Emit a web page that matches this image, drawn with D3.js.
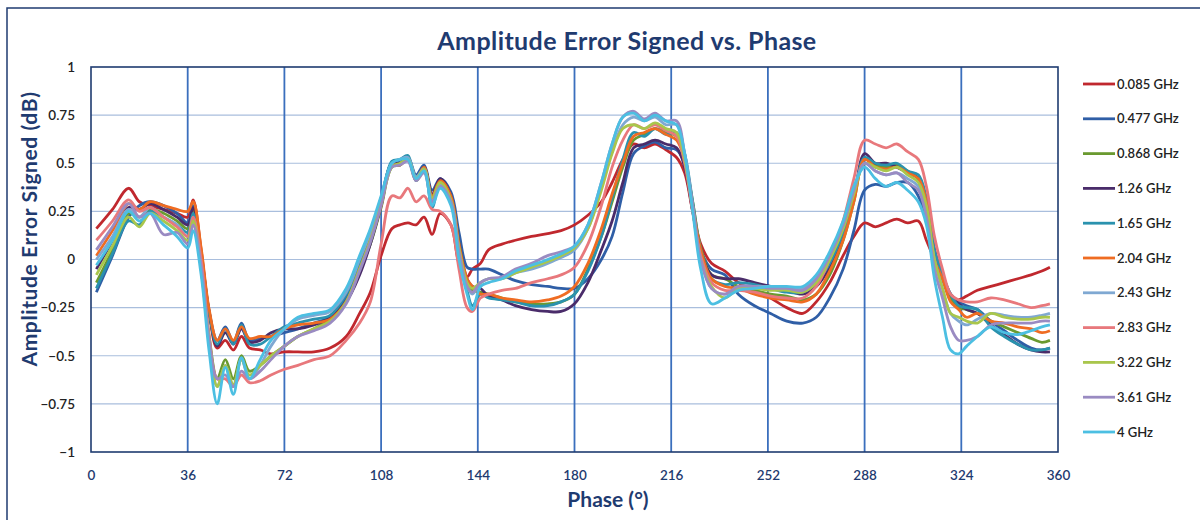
<!DOCTYPE html>
<html><head><meta charset="utf-8">
<script src="https://cdn.jsdelivr.net/npm/d3@7"></script>
<style>
html,body{margin:0;padding:0;background:#fff;}
svg{display:block;font-family:Lato,"Open Sans",sans-serif;}
</style></head>
<body><svg id="chart" width="1200" height="520"></svg>
<script>
const phase = [2,8,14,18,22,27,32,36,38, 41,44,47,50,53,56,59,63,67,72,77,83,89,95,100, 104,108,112,115,118,121,124,127,130,134,137,140,142, 145,148,153,158,164,170,175,180,185,190,194,198, 202,206,210,214,218, 221,224,227,231,236, 241,247,253,259,265,270,275,280,284, 288,292,296,300,304,308,311, 314,317,320,323,326,330, 335,340,345,350,354,357];

const s0085 = [0.16,0.26,0.37,0.30,0.28,0.26,0.24,0.22,0.31, 0.05,-0.28,-0.46,-0.42,-0.47,-0.40,-0.46,-0.47,-0.49,-0.48,-0.48,-0.48,-0.46,-0.40,-0.28, -0.17,0.02,0.16,0.18,0.19,0.18,0.22,0.13,0.24,0.18,-0.02,-0.09,-0.05, -0.02,0.05,0.08,0.10,0.12,0.135,0.15,0.18,0.23,0.30,0.40,0.52, 0.60,0.58,0.60,0.57,0.53, 0.45,0.25,0.08,-0.02,-0.06, -0.12,-0.16,-0.20,-0.25,-0.28,-0.22,-0.12,0.02,0.12, 0.19,0.17,0.19,0.21,0.19,0.20,0.10, 0.00,-0.10,-0.20,-0.21,-0.19,-0.16, -0.14,-0.12,-0.10,-0.08,-0.06,-0.04];
const s0477 = [-0.17,0.02,0.22,0.28,0.30,0.28,0.24,0.19,0.28, 0.02,-0.27,-0.42,-0.35,-0.43,-0.33,-0.42,-0.41,-0.40,-0.38,-0.36,-0.33,-0.30,-0.20,-0.05, 0.12,0.32,0.50,0.51,0.53,0.44,0.49,0.36,0.42,0.35,0.14,-0.04,-0.05, -0.05,-0.05,-0.08,-0.11,-0.13,-0.14,-0.15,-0.15,-0.10,0.00,0.12,0.35, 0.55,0.59,0.61,0.58,0.57, 0.50,0.28,0.05,-0.05,-0.08, -0.18,-0.24,-0.28,-0.32,-0.33,-0.30,-0.20,-0.05,0.15, 0.36,0.39,0.38,0.40,0.40,0.33,0.20, 0.00,-0.10,-0.18,-0.22,-0.24,-0.26, -0.32,-0.37,-0.42,-0.46,-0.47,-0.46];
const s0868 = [-0.12,0.05,0.24,0.22,0.26,0.24,0.20,0.16,0.26, -0.02,-0.40,-0.62,-0.52,-0.62,-0.50,-0.58,-0.55,-0.50,-0.45,-0.40,-0.36,-0.31,-0.22,-0.06, 0.08,0.27,0.48,0.49,0.52,0.41,0.46,0.33,0.40,0.32,0.08,-0.12,-0.16, -0.17,-0.18,-0.20,-0.22,-0.23,-0.23,-0.22,-0.18,-0.05,0.12,0.30,0.48, 0.62,0.65,0.68,0.66,0.64, 0.52,0.30,0.06,-0.08,-0.10, -0.14,-0.16,-0.18,-0.19,-0.21,-0.18,-0.08,0.10,0.30, 0.52,0.49,0.48,0.49,0.46,0.42,0.30, 0.05,-0.10,-0.20,-0.25,-0.26,-0.28, -0.32,-0.35,-0.38,-0.41,-0.43,-0.42];
const s126 = [-0.05,0.10,0.27,0.26,0.29,0.26,0.22,0.18,0.27, 0.03,-0.27,-0.45,-0.38,-0.44,-0.36,-0.43,-0.42,-0.38,-0.36,-0.36,-0.34,-0.30,-0.22,-0.08, 0.08,0.28,0.50,0.50,0.52,0.42,0.48,0.34,0.42,0.33,0.08,-0.10,-0.14, -0.15,-0.19,-0.21,-0.24,-0.26,-0.27,-0.27,-0.23,-0.12,0.05,0.20,0.40, 0.58,0.60,0.62,0.60,0.58, 0.48,0.25,0.04,-0.08,-0.10, -0.10,-0.12,-0.14,-0.16,-0.18,-0.14,-0.04,0.12,0.32, 0.55,0.50,0.50,0.48,0.45,0.42,0.30, 0.05,-0.08,-0.18,-0.23,-0.26,-0.28, -0.34,-0.39,-0.44,-0.47,-0.48,-0.48];
const s165 = [-0.15,0.03,0.20,0.18,0.25,0.22,0.18,0.14,0.24, 0.00,-0.28,-0.44,-0.36,-0.44,-0.34,-0.44,-0.44,-0.40,-0.35,-0.33,-0.31,-0.29,-0.18,-0.02, 0.12,0.30,0.51,0.52,0.54,0.41,0.47,0.27,0.40,0.30,0.04,-0.16,-0.24, -0.18,-0.20,-0.21,-0.22,-0.24,-0.24,-0.22,-0.18,-0.06,0.12,0.32,0.52, 0.66,0.64,0.68,0.65,0.66, 0.55,0.30,0.05,-0.10,-0.13, -0.12,-0.13,-0.15,-0.17,-0.17,-0.12,-0.02,0.14,0.33, 0.53,0.50,0.49,0.50,0.46,0.44,0.32, 0.05,-0.08,-0.18,-0.24,-0.25,-0.26, -0.35,-0.40,-0.44,-0.47,-0.47,-0.46];
const s204 = [0.02,0.15,0.29,0.26,0.30,0.28,0.26,0.25,0.30, 0.06,-0.26,-0.42,-0.36,-0.42,-0.35,-0.41,-0.40,-0.40,-0.36,-0.34,-0.33,-0.31,-0.22,-0.05, 0.10,0.28,0.49,0.49,0.52,0.42,0.48,0.33,0.41,0.33,0.08,-0.10,-0.14, -0.18,-0.18,-0.20,-0.21,-0.22,-0.21,-0.19,-0.14,-0.02,0.16,0.34,0.50, 0.64,0.66,0.68,0.65,0.62, 0.52,0.28,0.05,-0.10,-0.14, -0.15,-0.18,-0.20,-0.21,-0.22,-0.18,-0.06,0.10,0.30, 0.52,0.48,0.47,0.48,0.45,0.42,0.30, 0.00,-0.10,-0.22,-0.26,-0.30,-0.28, -0.32,-0.33,-0.35,-0.36,-0.38,-0.37];
const s243 = [0.00,0.12,0.26,0.22,0.27,0.22,0.18,0.12,0.22, -0.05,-0.42,-0.66,-0.55,-0.66,-0.52,-0.62,-0.55,-0.45,-0.36,-0.31,-0.29,-0.27,-0.17,0.00, 0.14,0.32,0.50,0.52,0.53,0.43,0.47,0.31,0.39,0.30,0.05,-0.14,-0.18, -0.12,-0.10,-0.10,-0.07,-0.05,-0.02,0.01,0.05,0.16,0.38,0.56,0.70, 0.74,0.72,0.74,0.70,0.70, 0.55,0.28,0.00,-0.15,-0.18, -0.14,-0.14,-0.14,-0.15,-0.15,-0.10,0.02,0.18,0.36, 0.50,0.46,0.44,0.45,0.42,0.38,0.25, 0.00,-0.15,-0.28,-0.32,-0.34,-0.31, -0.28,-0.29,-0.30,-0.30,-0.29,-0.28];
const s283 = [0.10,0.20,0.31,0.25,0.27,0.22,0.17,0.12,0.22, 0.00,-0.40,-0.62,-0.62,-0.66,-0.60,-0.64,-0.63,-0.60,-0.57,-0.55,-0.52,-0.50,-0.42,-0.33, -0.22,0.08,0.33,0.32,0.37,0.30,0.33,0.26,0.25,0.18,-0.05,-0.25,-0.27, -0.20,-0.18,-0.16,-0.15,-0.12,-0.10,-0.08,-0.04,0.08,0.28,0.48,0.62, 0.70,0.68,0.70,0.67,0.64, 0.50,0.25,0.02,-0.12,-0.16, -0.16,-0.17,-0.19,-0.20,-0.20,-0.14,0.00,0.20,0.42, 0.62,0.60,0.58,0.60,0.56,0.52,0.38, 0.12,-0.05,-0.18,-0.21,-0.22,-0.22, -0.20,-0.21,-0.23,-0.25,-0.24,-0.23];
const s322 = [-0.08,0.07,0.22,0.17,0.24,0.20,0.15,0.10,0.20, -0.05,-0.42,-0.66,-0.55,-0.65,-0.52,-0.60,-0.55,-0.50,-0.45,-0.40,-0.36,-0.32,-0.22,-0.05, 0.10,0.29,0.48,0.50,0.52,0.42,0.47,0.32,0.40,0.31,0.06,-0.12,-0.15, -0.12,-0.10,-0.10,-0.07,-0.04,-0.01,0.02,0.06,0.16,0.36,0.55,0.68, 0.70,0.68,0.71,0.68,0.66, 0.52,0.26,0.00,-0.14,-0.20, -0.15,-0.15,-0.16,-0.16,-0.17,-0.12,0.00,0.16,0.34, 0.50,0.48,0.46,0.48,0.44,0.40,0.28, 0.00,-0.15,-0.28,-0.30,-0.32,-0.33, -0.28,-0.30,-0.31,-0.31,-0.30,-0.30];
const s361 = [0.05,0.17,0.29,0.22,0.24,0.13,0.14,0.08,0.18, -0.03,-0.42,-0.62,-0.60,-0.66,-0.58,-0.62,-0.58,-0.52,-0.45,-0.40,-0.37,-0.33,-0.23,-0.06, 0.09,0.28,0.48,0.49,0.51,0.41,0.45,0.30,0.38,0.30,0.04,-0.14,-0.17, -0.12,-0.10,-0.09,-0.05,-0.02,0.02,0.04,0.07,0.18,0.40,0.60,0.74, 0.77,0.73,0.76,0.72,0.72, 0.55,0.28,0.00,-0.15,-0.18, -0.14,-0.14,-0.15,-0.15,-0.16,-0.10,0.02,0.18,0.36, 0.50,0.46,0.44,0.45,0.40,0.36,0.22, -0.05,-0.20,-0.35,-0.42,-0.42,-0.40, -0.34,-0.33,-0.33,-0.33,-0.32,-0.32];
const s4 = [-0.03,0.10,0.25,0.20,0.24,0.18,0.12,0.06,0.15, -0.08,-0.48,-0.75,-0.56,-0.70,-0.51,-0.62,-0.52,-0.42,-0.36,-0.30,-0.28,-0.26,-0.15,0.02, 0.16,0.33,0.50,0.52,0.52,0.42,0.46,0.28,0.37,0.28,0.00,-0.18,-0.26, -0.14,-0.12,-0.10,-0.06,-0.03,0.00,0.03,0.07,0.18,0.40,0.60,0.74, 0.76,0.72,0.75,0.72,0.70, 0.55,0.25,-0.05,-0.23,-0.20, -0.16,-0.15,-0.14,-0.14,-0.14,-0.08,0.04,0.20,0.38, 0.48,0.42,0.38,0.40,0.36,0.30,0.18, -0.10,-0.30,-0.47,-0.49,-0.45,-0.40, -0.35,-0.38,-0.39,-0.37,-0.35,-0.34];

const seriesNames = ["0.085 GHz","0.477 GHz","0.868 GHz","1.26 GHz","1.65 GHz","2.04 GHz","2.43 GHz","2.83 GHz","3.22 GHz","3.61 GHz","4 GHz"];
const seriesValues = [s0085,s0477,s0868,s126,s165,s204,s243,s283,s322,s361,s4];
const seriesColors = ["#c0282e","#2f5ea6","#6a9a30","#4a2c6a","#2a92ae","#ef6c22","#7fa8d2","#e8787c","#a9c64c","#9a8bc2","#4cbfe2"];
const xTicks = [0,36,72,108,144,180,216,252,288,324,360];
const yTicks = [-1,-0.75,-0.5,-0.25,0,0.25,0.5,0.75,1];

const svg = d3.select("#chart");
const L=91, R=1058, T=67, B=452;
const x = d3.scaleLinear().domain([0,360]).range([L,R]);
const y = d3.scaleLinear().domain([-1,1]).range([B,T]);

// outer frame
svg.append("rect").attr("x",7).attr("y",8).attr("width",1200).attr("height",520)
  .attr("fill","none").attr("stroke","#1f3b70").attr("stroke-width",1.5);

// title
svg.append("text").attr("x",627).attr("y",50).attr("text-anchor","middle")
  .attr("font-size",25).attr("font-weight","bold").attr("fill","#1f3b70")
  .attr("letter-spacing","0.4").text("Amplitude Error Signed vs. Phase");

// horizontal gridlines
svg.append("g").selectAll("line").data(yTicks.filter(d=>d>-1&&d<1)).join("line")
  .attr("x1",L).attr("x2",R).attr("y1",d=>y(d)).attr("y2",d=>y(d))
  .attr("stroke","#a9bedd").attr("stroke-width",1.2);
// vertical gridlines
svg.append("g").selectAll("line").data(xTicks.filter(d=>d>0&&d<360)).join("line")
  .attr("y1",T).attr("y2",B).attr("x1",d=>x(d)).attr("x2",d=>x(d))
  .attr("stroke","#3b6fbd").attr("stroke-width",1.8);

// plot border
svg.append("rect").attr("x",L).attr("y",T).attr("width",R-L).attr("height",B-T)
  .attr("fill","none").attr("stroke","#1f3b70").attr("stroke-width",1.6);

// axes labels
const yAxis = d3.axisLeft(y).tickValues(yTicks).tickSize(0).tickPadding(16)
  .tickFormat(d=>d3.format("")(d));
const gy = svg.append("g").attr("transform",`translate(${L},0)`).call(yAxis);
gy.select(".domain").remove();
gy.selectAll("text").attr("font-size",13.5).attr("fill","#222").attr("font-family","Lato,sans-serif").attr("font-weight","600");

const xAxis = d3.axisBottom(x).tickValues(xTicks).tickSize(0).tickPadding(18);
const gx = svg.append("g").attr("transform",`translate(0,${B})`).call(xAxis);
gx.select(".domain").remove();
gx.selectAll("text").attr("font-size",13.5).attr("fill","#1f3b70").attr("font-family","Lato,sans-serif").attr("font-weight","600");

svg.append("text").attr("x",608).attr("y",507).attr("text-anchor","middle")
  .attr("font-size",21).attr("font-weight","bold").attr("fill","#1f3b70").text("Phase (°)");
svg.append("text").attr("transform","translate(37,229) rotate(-90)").attr("text-anchor","middle")
  .attr("font-size",21).attr("font-weight","bold").attr("fill","#1f3b70")
  .attr("letter-spacing","0.6").text("Amplitude Error Signed (dB)");

// lines
const line = d3.line().x((d,i)=>x(phase[i])).y(d=>y(d)).curve(d3.curveCatmullRom.alpha(0.5));
const gl = svg.append("g");
seriesValues.forEach((vals,k)=>{
  gl.append("path").attr("d",line(vals)).attr("fill","none")
    .attr("stroke",seriesColors[k]).attr("stroke-width",2.8).attr("stroke-linejoin","round");
});

// legend
const lg = svg.append("g");
seriesNames.forEach((n,k)=>{
  const yy = 84 + k*34.8;
  lg.append("line").attr("x1",1083).attr("x2",1115).attr("y1",yy).attr("y2",yy)
    .attr("stroke",seriesColors[k]).attr("stroke-width",2.8);
  lg.append("text").attr("x",1117).attr("y",yy+4.5).attr("font-size",13).attr("font-weight","600")
    .attr("fill","#222").text(n);
});
</script></body></html>
